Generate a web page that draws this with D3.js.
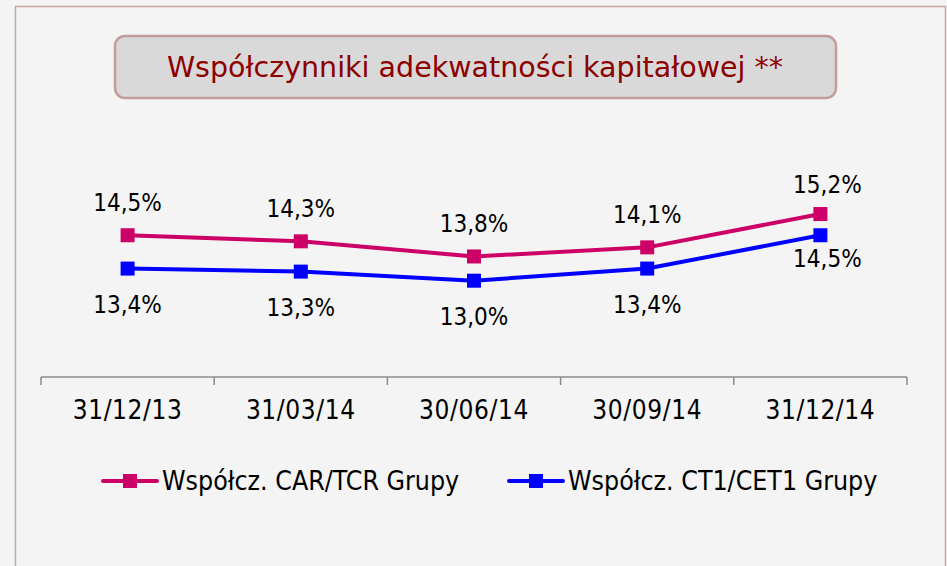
<!DOCTYPE html>
<html>
<head>
<meta charset="utf-8">
<script src="https://cdn.jsdelivr.net/npm/d3@7"></script>
<style>
  html, body { margin: 0; padding: 0; background: #f4f4f4; }
  svg { display: block; }
  text { font-family: "DejaVu Sans Condensed", "DejaVu Sans", sans-serif; }
</style>
</head>
<body>
<svg id="chart" width="947" height="566"></svg>
<script>
const title = "Współczynniki adekwatności kapitałowej **";
const categories = ["31/12/13", "31/03/14", "30/06/14", "30/09/14", "31/12/14"];
const seriesNames = ["Współcz. CAR/TCR Grupy", "Współcz. CT1/CET1 Grupy"];
const carValues = [14.5, 14.3, 13.8, 14.1, 15.2];
const ct1Values = [13.4, 13.3, 13.0, 13.4, 14.5];
const seriesColors = ["#cc0066", "#0000ff"];

const fmt = v => v.toFixed(1).replace(".", ",") + "%";

const svg = d3.select("#chart");

// outer frame
svg.append("rect")
  .attr("x", 15.5).attr("y", 6.5).attr("width", 930).attr("height", 600)
  .attr("fill", "#f4f4f4").attr("stroke", "#c9a3a5").attr("stroke-width", 1.5);

// title box
svg.append("rect")
  .attr("x", 115).attr("y", 36).attr("width", 721).attr("height", 62)
  .attr("rx", 10).attr("ry", 10)
  .attr("fill", "#d9d9d9").attr("stroke", "#c39c9c").attr("stroke-width", 2.5);
svg.append("text")
  .attr("x", 475).attr("y", 77)
  .attr("text-anchor", "middle")
  .attr("fill", "#8c0000")
  .attr("font-size", 28.5)
  .style("font-family", "'DejaVu Sans', sans-serif")
  .text(title);

const x = d3.scaleBand().domain(categories).range([41, 907]).padding(0);
const y = d3.scaleLinear().domain([12, 16]).range([311, 189.8]);
const axisY = 377;

// axis line + boundary ticks
const axisG = svg.append("g");
axisG.append("line")
  .attr("x1", x.range()[0]).attr("x2", x.range()[1])
  .attr("y1", axisY).attr("y2", axisY)
  .attr("stroke", "#8c8c8c").attr("stroke-width", 1.5);
const bounds = categories.map(c => x(c)).concat([x.range()[1]]);
axisG.selectAll("line.tick").data(bounds).enter().append("line")
  .attr("class", "tick")
  .attr("x1", d => d).attr("x2", d => d)
  .attr("y1", axisY).attr("y2", axisY + 8)
  .attr("stroke", "#8c8c8c").attr("stroke-width", 1.5);
axisG.selectAll("text").data(categories).enter().append("text")
  .attr("x", d => x(d) + x.bandwidth() / 2)
  .attr("y", 419)
  .attr("text-anchor", "middle")
  .attr("font-size", 26)
  .attr("letter-spacing", 0.6)
  .attr("fill", "#000")
  .text(d => d);

const cx = c => x(c) + x.bandwidth() / 2;
const line = d3.line().x((d, i) => cx(categories[i])).y(d => y(d));

const series = [
  { name: seriesNames[0], values: carValues, color: seriesColors[0] },
  { name: seriesNames[1], values: ct1Values, color: seriesColors[1] }
];

series.forEach(s => {
  svg.append("path")
    .attr("d", line(s.values))
    .attr("fill", "none")
    .attr("stroke", s.color)
    .attr("stroke-width", 4)
    .attr("stroke-linejoin", "round");
  svg.selectAll(null).data(s.values).enter().append("rect")
    .attr("x", (d, i) => cx(categories[i]) - 7)
    .attr("y", d => y(d) - 7)
    .attr("width", 14).attr("height", 14)
    .attr("fill", s.color);
});

// data labels
const last = categories.length - 1;
svg.selectAll(null).data(carValues).enter().append("text")
  .attr("x", (d, i) => cx(categories[i]) + (i === last ? 7 : 0))
  .attr("y", (d, i) => y(d) - (i === last ? 21 : 24))
  .attr("text-anchor", "middle")
  .attr("font-size", 24)
  .attr("fill", "#000")
  .text(fmt);
svg.selectAll(null).data(ct1Values).enter().append("text")
  .attr("x", (d, i) => cx(categories[i]) + (i === last ? 7 : 0))
  .attr("y", (d, i) => y(d) + (i === last ? 32 : 44))
  .attr("text-anchor", "middle")
  .attr("font-size", 24)
  .attr("fill", "#000")
  .text(fmt);

// legend
const legendItems = [
  { x0: 103, name: seriesNames[0], color: seriesColors[0] },
  { x0: 509, name: seriesNames[1], color: seriesColors[1] }
];
const ly = 481;
legendItems.forEach(it => {
  svg.append("line")
    .attr("x1", it.x0).attr("x2", it.x0 + 54)
    .attr("y1", ly).attr("y2", ly)
    .attr("stroke", it.color).attr("stroke-width", 4)
    .attr("stroke-linecap", "round");
  svg.append("rect")
    .attr("x", it.x0 + 27 - 7).attr("y", ly - 7)
    .attr("width", 14).attr("height", 14)
    .attr("fill", it.color);
  svg.append("text")
    .attr("x", it.x0 + 59).attr("y", 490)
    .attr("font-size", 26.5)
    .attr("fill", "#000")
    .text(it.name);
});
</script>
</body>
</html>
